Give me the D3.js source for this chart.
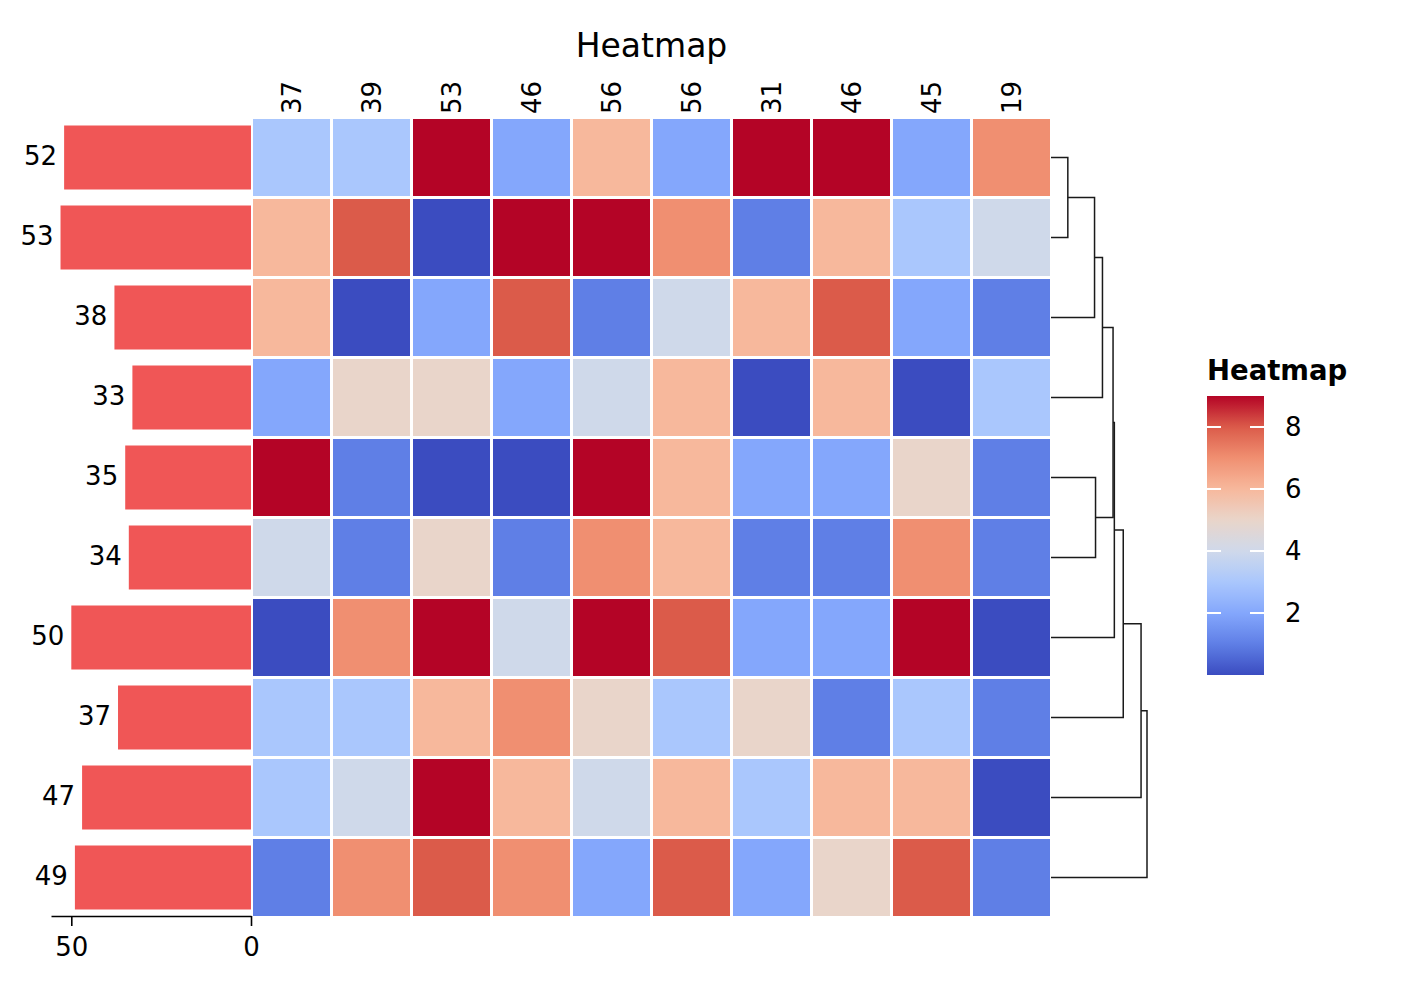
<!DOCTYPE html>
<html>
<head>
<meta charset="utf-8">
<script src="https://cdn.jsdelivr.net/npm/d3@7"></script>
<style>
  html, body { margin: 0; padding: 0; background: #fff; }
  svg { display: block; font-family: "DejaVu Sans", sans-serif; }
</style>
</head>
<body>
<svg id="chart" width="1424" height="984"></svg>
<script>
// ---------------- data ----------------
const title = "Heatmap";
const legendTitle = "Heatmap";
const colLabels = ["37", "39", "53", "46", "56", "56", "31", "46", "45", "19"];
const rowLabels = ["52", "53", "38", "33", "35", "34", "50", "37", "47", "49"];
const rowTotals = [52, 53, 38, 33, 35, 34, 50, 37, 47, 49];
const row0 = [3, 3, 9, 2, 6, 2, 9, 9, 2, 7];
const row1 = [6, 8, 0, 9, 9, 7, 1, 6, 3, 4];
const row2 = [6, 0, 2, 8, 1, 4, 6, 8, 2, 1];
const row3 = [2, 5, 5, 2, 4, 6, 0, 6, 0, 3];
const row4 = [9, 1, 0, 0, 9, 6, 2, 2, 5, 1];
const row5 = [4, 1, 5, 1, 7, 6, 1, 1, 7, 1];
const row6 = [0, 7, 9, 4, 9, 8, 2, 2, 9, 0];
const row7 = [3, 3, 6, 7, 5, 3, 5, 1, 3, 1];
const row8 = [3, 4, 9, 6, 4, 6, 3, 6, 6, 0];
const row9 = [1, 7, 8, 7, 2, 8, 2, 5, 8, 1];
const matrix = [row0, row1, row2, row3, row4, row5, row6, row7, row8, row9];
const barTicks = [50, 0];
const colorTicks = [2, 4, 6, 8];
// linkage (scipy style): [childA, childB, height]; leaves 0..9, clusters 10..
const linkage = [
  [0, 1, 17],
  [10, 2, 44],
  [11, 3, 52],
  [4, 5, 45],
  [12, 13, 62.7],
  [14, 6, 64],
  [15, 7, 73],
  [16, 8, 91],
  [17, 9, 97]
];
// coolwarm colormap sampled at integer steps 0..9
const coolwarmStops = ["#3b4cc0", "#5f7fe6", "#84a7fc", "#aac7fd", "#cfd9ea",
                       "#e9d5ca", "#f7b89c", "#f08f71", "#db5b4a", "#b40426"];

// ---------------- layout ----------------
const svg = d3.select("#chart");
const font = "DejaVu Sans";
const hm = { left: 251.5, right: 1051.5, top: 117.5, bottom: 917.5 };
const gap = 1.5;

const x = d3.scaleBand().domain(d3.range(colLabels.length)).range([hm.left, hm.right]);
const y = d3.scaleBand().domain(d3.range(rowLabels.length)).range([hm.top, hm.bottom]);
const color = d3.scaleLinear().domain(d3.range(coolwarmStops.length)).range(coolwarmStops)
  .interpolate(d3.interpolateRgb).clamp(true);

// title
svg.append("text")
  .attr("x", (hm.left + hm.right) / 2).attr("y", 57)
  .attr("text-anchor", "middle")
  .style("font-size", "33px").style("fill", "#000")
  .text(title);

// heatmap cells
const cells = [];
matrix.forEach((r, i) => r.forEach((v, j) => cells.push({ i, j, v })));
svg.append("g").selectAll("rect").data(cells).join("rect")
  .attr("x", d => x(d.j) + gap)
  .attr("y", d => y(d.i) + gap)
  .attr("width", x.bandwidth() - 2 * gap)
  .attr("height", y.bandwidth() - 2 * gap)
  .attr("fill", d => color(d.v));

// column labels (rotated)
svg.append("g").selectAll("text").data(colLabels).join("text")
  .attr("transform", (d, j) => `translate(${x(j) + x.bandwidth() / 2},114) rotate(-90)`)
  .attr("dy", "0.36em")
  .attr("text-anchor", "start")
  .style("font-size", "26px")
  .text(d => d);

// left bar chart
const yBar = d3.scaleBand().domain(d3.range(rowTotals.length)).range([hm.top, hm.bottom])
  .paddingInner(0.2).paddingOuter(0.1);
const xBar = d3.scaleLinear().domain([0, d3.max(rowTotals) * 1.05]).range([251, 51]);
svg.append("g").selectAll("rect").data(rowTotals).join("rect")
  .attr("x", d => xBar(d))
  .attr("y", (d, i) => yBar(i))
  .attr("width", d => xBar(0) - xBar(d))
  .attr("height", yBar.bandwidth())
  .attr("fill", "#f05656");
svg.append("g").selectAll("text").data(rowTotals).join("text")
  .attr("x", d => xBar(d) - 7)
  .attr("y", (d, i) => y(i) + y.bandwidth() / 2)
  .attr("dy", "0.27em")
  .attr("text-anchor", "end")
  .style("font-size", "26px")
  .text((d, i) => rowLabels[i]);

const barAxis = svg.append("g").attr("transform", `translate(0,${916})`)
  .call(d3.axisBottom(xBar).tickValues(barTicks).tickSize(10).tickSizeOuter(0).tickPadding(12)
    .tickFormat(d3.format("d")));
barAxis.select(".domain").attr("stroke", "#000").attr("stroke-width", 1.6);
barAxis.selectAll(".tick line").attr("stroke", "#000").attr("stroke-width", 1.6);
barAxis.selectAll(".tick text").style("font-size", "26px").style("font-family", font).attr("fill", "#000");

// dendrogram (right)
const dx = d3.scaleLinear().domain([0, d3.max(linkage, d => d[2])]).range([1051, 1147]);
const nodeY = [], nodeH = [];
d3.range(rowLabels.length).forEach(i => { nodeY[i] = y(i) + y.bandwidth() / 2; nodeH[i] = 0; });
const dg = svg.append("g").attr("fill", "none").attr("stroke", "#1a1a1a").attr("stroke-width", 1.5);
linkage.forEach((m, k) => {
  const [a, b, h] = m;
  const id = rowLabels.length + k;
  const ya = nodeY[a], yb = nodeY[b];
  const path = d3.path();
  path.moveTo(dx(nodeH[a]), ya);
  path.lineTo(dx(h), ya);
  path.lineTo(dx(h), yb);
  path.lineTo(dx(nodeH[b]), yb);
  dg.append("path").attr("d", path.toString());
  nodeY[id] = (ya + yb) / 2;
  nodeH[id] = h;
});

// legend / colorbar
const cb = { x: 1207, w: 57, top: 396, bottom: 675 };
svg.append("text")
  .attr("x", cb.x).attr("y", 380)
  .style("font-size", "27.5px").style("font-weight", "bold")
  .text(legendTitle);
const cScale = d3.scaleLinear().domain([0, coolwarmStops.length - 1]).range([cb.bottom, cb.top]);
const defs = svg.append("defs");
const grad = defs.append("linearGradient").attr("id", "cbgrad")
  .attr("x1", 0).attr("y1", 1).attr("x2", 0).attr("y2", 0);
grad.selectAll("stop").data(d3.range(0, 1.0001, 0.02)).join("stop")
  .attr("offset", d => d)
  .attr("stop-color", d => color(d * (coolwarmStops.length - 1)));
svg.append("rect")
  .attr("x", cb.x).attr("y", cb.top).attr("width", cb.w).attr("height", cb.bottom - cb.top)
  .attr("fill", "url(#cbgrad)");
const ct = svg.append("g");
colorTicks.forEach(t => {
  const yy = cScale(t);
  ct.append("line").attr("x1", cb.x).attr("x2", cb.x + 14).attr("y1", yy).attr("y2", yy)
    .attr("stroke", "#fff").attr("stroke-width", 2);
  ct.append("line").attr("x1", cb.x + cb.w - 14).attr("x2", cb.x + cb.w).attr("y1", yy).attr("y2", yy)
    .attr("stroke", "#fff").attr("stroke-width", 2);
  ct.append("text").attr("x", 1285).attr("y", yy).attr("dy", "0.36em")
    .style("font-size", "26px").text(t);
});
</script>
</body>
</html>
